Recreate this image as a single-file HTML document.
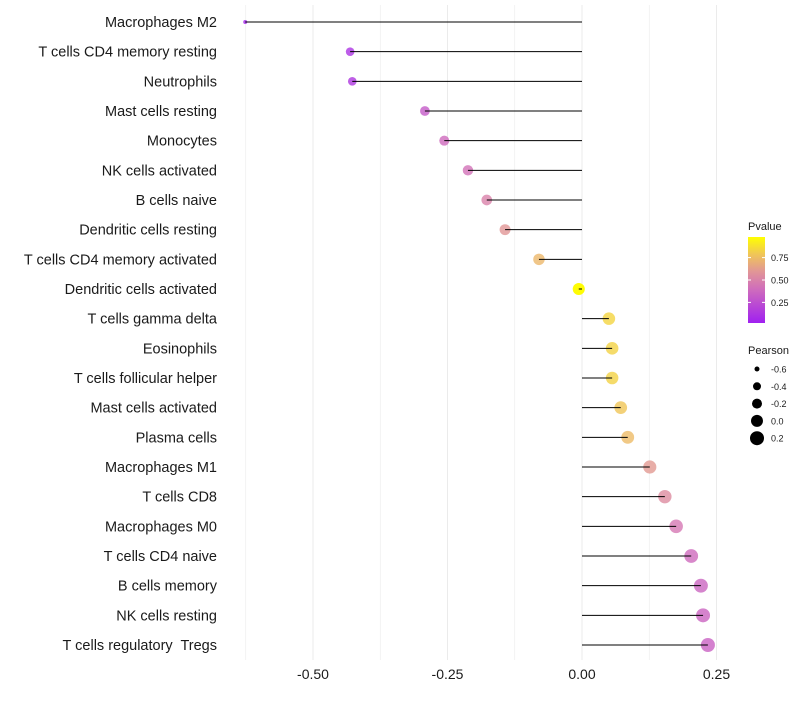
<!DOCTYPE html>
<html><head><meta charset="utf-8"><style>
body{margin:0;background:#fff;font-family:"Liberation Sans",sans-serif}
svg text{font-family:"Liberation Sans",sans-serif;white-space:pre}
</style></head><body>
<svg id="c" width="800" height="700"></svg>
<script>
const categories=["Macrophages M2","T cells CD4 memory resting","Neutrophils","Mast cells resting","Monocytes","NK cells activated","B cells naive","Dendritic cells resting","T cells CD4 memory activated","Dendritic cells activated","T cells gamma delta","Eosinophils","T cells follicular helper","Mast cells activated","Plasma cells","Macrophages M1","T cells CD8","Macrophages M0","T cells CD4 naive","B cells memory","NK cells resting","T cells regulatory  Tregs"];
const pearson=[-0.626,-0.431,-0.427,-0.292,-0.256,-0.212,-0.177,-0.143,-0.080,-0.006,0.050,0.056,0.056,0.072,0.085,0.126,0.154,0.175,0.203,0.221,0.225,0.234];
const pvalue=[0.03,0.1,0.12,0.3,0.38,0.42,0.5,0.6,0.75,0.99,0.85,0.84,0.84,0.8,0.76,0.62,0.55,0.45,0.38,0.36,0.35,0.34];
const xTicks=[-0.5,-0.25,0,0.25];
const xTickLabels=["-0.50","-0.25","0.00","0.25"];
const pTicks=[0.25,0.5,0.75];
const sizeTicks=[-0.6,-0.4,-0.2,0.0,0.2];
const NS="http://www.w3.org/2000/svg";
const svg=document.getElementById('c');
function el(t,a,p){const e=document.createElementNS(NS,t);for(const k in a)e.setAttribute(k,a[k]);(p||svg).appendChild(e);return e;}
const x=v=>582+v*538;
const y=i=>22+i*(623/21);
const r=v=>v>=-0.43?4.3+(v+0.43)*4.1:Math.max(2,4.3-(-0.43-v)*11.7);
function col(p){const s=[[0,[160,32,240]],[0.45,[214,120,180]],[0.7,[232,170,130]],[1,[255,255,0]]];let k=0;while(k<s.length-2&&p>s[k+1][0])k++;const a=s[k],b=s[k+1];const t=Math.max(0,Math.min(1,(p-a[0])/(b[0]-a[0])));const c=a[1].map((v,j)=>Math.round(v+(b[1][j]-v)*t));return `rgb(${c})`;}
for(let g=-0.625;g<=0.26;g+=0.125){const l=el('line',{x1:x(g),x2:x(g),y1:5,y2:660,stroke:'#ebebeb','stroke-width':Math.abs((g*8)%2)<0.01?1:0.6});

}
categories.forEach((c,i)=>{
const t=el('text',{x:217,y:y(i)+5,'text-anchor':'end','font-size':14.5,fill:'#1a1a1a'});t.textContent=c;


const pt=el('circle',{cx:x(pearson[i]),cy:y(i),r:r(pearson[i]),fill:col(pvalue[i]),opacity:pvalue[i]>0.95?1:0.8});


const ln=el('line',{x1:x(0),x2:x(pearson[i]),y1:y(i),y2:y(i),stroke:'#000','stroke-width':1});


});
xTicks.forEach((v,i)=>{const t=el('text',{x:x(v),y:679,'text-anchor':'middle','font-size':14,fill:'#1a1a1a'});t.textContent=xTickLabels[i];

});
const defs=el('defs',{});const gr=el('linearGradient',{id:'pg',x1:0,y1:1,x2:0,y2:0},defs);
[0,0.2,0.4,0.6,0.8,1].forEach(s=>el('stop',{offset:s,'stop-color':col(s)},gr));
let t=el('text',{x:748,y:230,'font-size':11,fill:'#1a1a1a'});t.textContent='Pvalue';

const bar=el('rect',{x:748,y:237,width:17,height:86,fill:'url(#pg)'});


const py=p=>323-(p-0.02)*(86/0.96);
pTicks.forEach(p=>{el('line',{x1:748,x2:751,y1:py(p),y2:py(p),stroke:'#fff'});el('line',{x1:762,x2:765,y1:py(p),y2:py(p),stroke:'#fff'});
const tt=el('text',{x:771,y:py(p)+3.5,'font-size':9,fill:'#1a1a1a'});tt.textContent=p.toFixed(2);

});
t=el('text',{x:748,y:354,'font-size':11,fill:'#1a1a1a'});t.textContent='Pearson';

const legR=[2.5,4,5,6,7];
sizeTicks.forEach((s,i)=>{const cy=369+i*17.3;
const c=el('circle',{cx:757,cy:cy,r:legR[i],fill:'#000'});


const tt=el('text',{x:771,y:cy+3.5,'font-size':9,fill:'#1a1a1a'});tt.textContent=s.toFixed(1);

});
</script>
</body></html>
